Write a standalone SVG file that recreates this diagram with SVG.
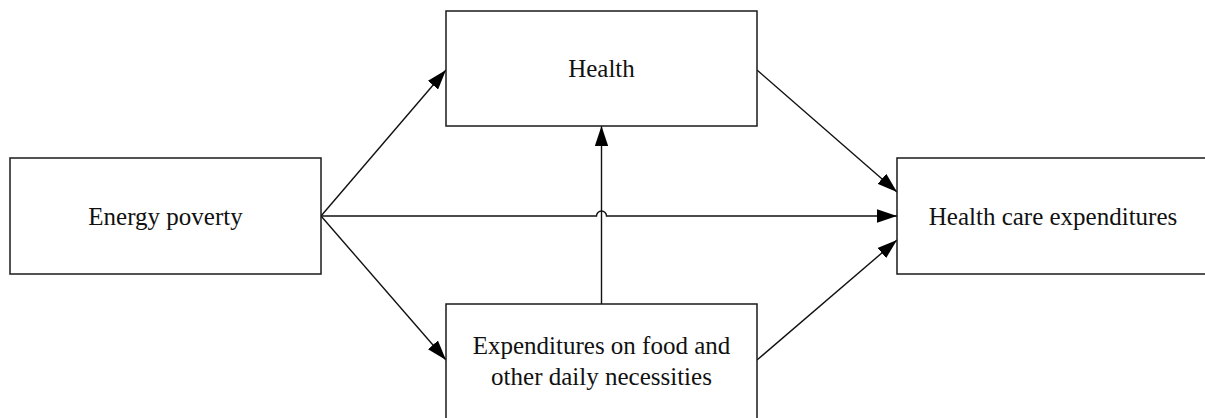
<svg xmlns="http://www.w3.org/2000/svg" width="1205" height="418" viewBox="0 0 1205 418">
<style>
.box{fill:#fff;stroke:#1a1a1a;stroke-width:1.5}
.lbl{font-family:"Liberation Serif","Times New Roman",serif;font-size:25px;fill:#111;text-anchor:middle}
.con{fill:none;stroke:#111;stroke-width:1.4;marker-end:url(#ah)}
</style>
<defs>
<marker id="ah" markerUnits="userSpaceOnUse" markerWidth="20" markerHeight="14" viewBox="0 0 18 12" refX="18" refY="6" orient="auto">
<path d="M0,0 L18,6 L0,12 z" fill="#000"/>
</marker>
</defs>
<rect width="1205" height="418" fill="#fff"/>
<g id="connectors">
<path class="con" d="M321,216 L446,70"/>
<path class="con" d="M321,216 L446,360"/>
<path class="con" d="M321,216 H596.5 A5,5 0 0 1 606.5,216 H897"/>
<path class="con" d="M601.5,304 V126"/>
<path class="con" d="M757,70 L897,192"/>
<path class="con" d="M757,360 L897,240"/>
</g>
<g id="energy-poverty">
<rect class="box" x="10" y="158" width="311" height="116"/>
<text class="lbl" x="165.5" y="225">Energy poverty</text>
</g>
<g id="health">
<rect class="box" x="446" y="11" width="311" height="115"/>
<text class="lbl" x="601.5" y="77">Health</text>
</g>
<g id="expenditures-food">
<rect class="box" x="446" y="304" width="311" height="116"/>
<text class="lbl" x="601.5" y="354">Expenditures on food and</text>
<text class="lbl" x="601.5" y="385">other daily necessities</text>
</g>
<g id="health-care-expenditures">
<rect class="box" x="897" y="158" width="312" height="116"/>
<text class="lbl" x="1053" y="225">Health care expenditures</text>
</g>
</svg>
